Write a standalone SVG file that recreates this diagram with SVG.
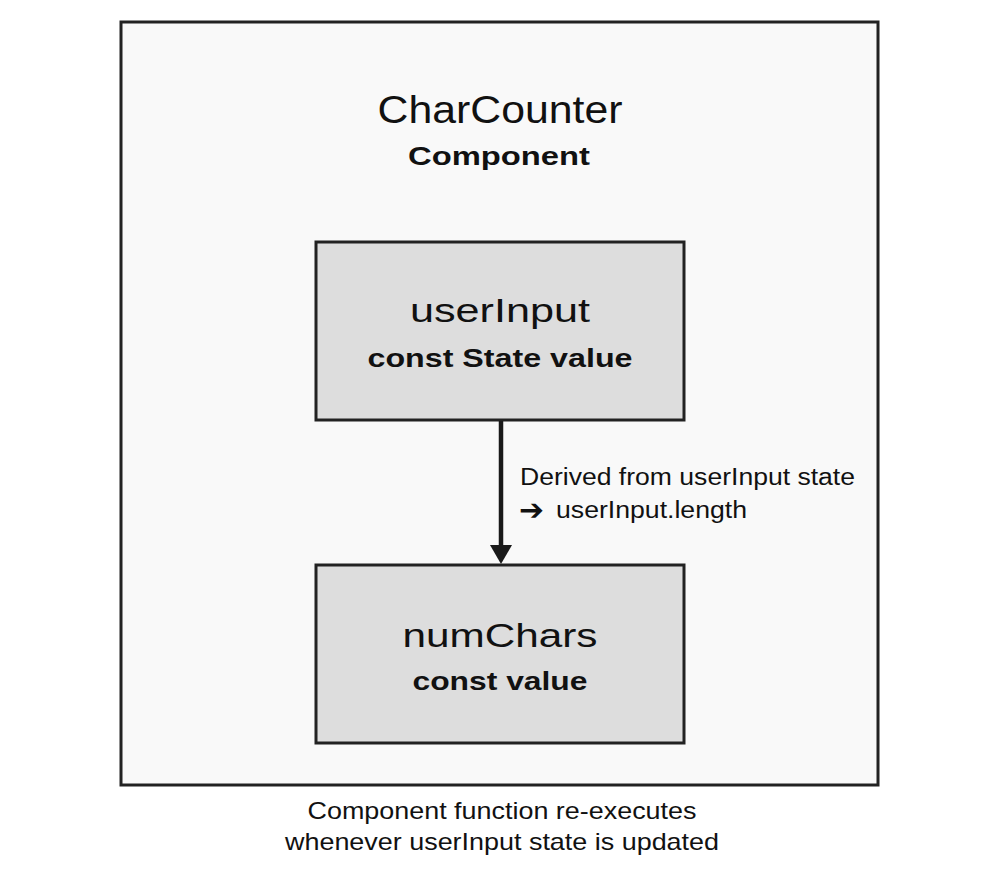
<svg xmlns="http://www.w3.org/2000/svg" width="1006" height="870" viewBox="0 0 1006 870">
<defs>
<style>
.t{font-family:"Liberation Sans",Arial,sans-serif;fill:#111;}
.b{font-weight:bold;}
.node{fill:#dddddd;stroke:#222;stroke-width:3;}
.conn{stroke:#1a1a1a;stroke-width:4.5;fill:none;}
</style>
</defs>
<rect width="1006" height="870" fill="#ffffff"/>
<g id="charcounter">
<rect x="121" y="22" width="757" height="763" fill="#f9f9f9" stroke="#222" stroke-width="3"/>
<text class="t" x="500" y="123" font-size="38" text-anchor="middle" textLength="245" lengthAdjust="spacingAndGlyphs">CharCounter</text>
<text class="t b" x="499" y="165" font-size="25" text-anchor="middle" textLength="182" lengthAdjust="spacingAndGlyphs">Component</text>
</g>
<g id="userInput">
<rect class="node" x="316" y="242" width="368" height="178"/>
<text class="t" x="500" y="322" font-size="33" text-anchor="middle" textLength="180" lengthAdjust="spacingAndGlyphs">userInput</text>
<text class="t b" x="500" y="367" font-size="25" text-anchor="middle" textLength="265" lengthAdjust="spacingAndGlyphs">const State value</text>
</g>
<g id="numChars">
<rect class="node" x="316" y="565" width="368" height="178"/>
<text class="t" x="500" y="647" font-size="33" text-anchor="middle" textLength="195" lengthAdjust="spacingAndGlyphs">numChars</text>
<text class="t b" x="500" y="690" font-size="25" text-anchor="middle" textLength="175" lengthAdjust="spacingAndGlyphs">const value</text>
</g>
<g id="connectors">
<line class="conn" x1="501" y1="421" x2="501" y2="546"/>
<path d="M490,545 L512,545 L501,564 Z" fill="#1a1a1a"/>
<text class="t" x="520" y="485" font-size="23" textLength="335" lengthAdjust="spacingAndGlyphs">Derived from userInput state</text>
<text x="519" y="520" font-size="29" font-family="DejaVu Sans,sans-serif" fill="#111" textLength="25" lengthAdjust="spacingAndGlyphs">➔</text>
<text class="t" x="556" y="518" font-size="23" textLength="191" lengthAdjust="spacingAndGlyphs">userInput.length</text>
</g>
<g id="caption">
<text class="t" x="502" y="819" font-size="24" text-anchor="middle" textLength="389" lengthAdjust="spacingAndGlyphs">Component function re-executes</text>
<text class="t" x="502" y="850" font-size="24" text-anchor="middle" textLength="434" lengthAdjust="spacingAndGlyphs">whenever userInput state is updated</text>
</g>
</svg>
